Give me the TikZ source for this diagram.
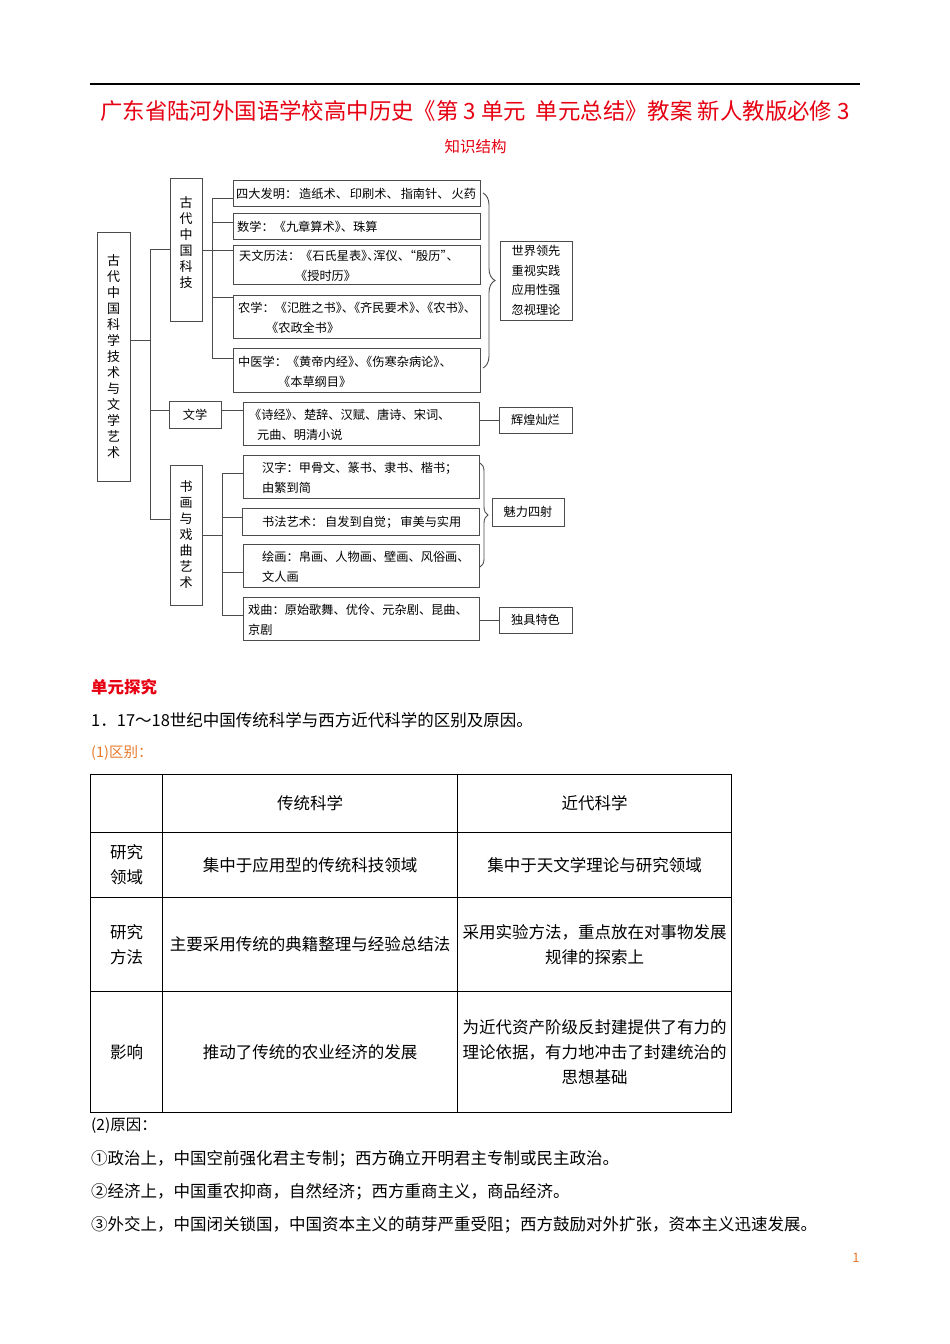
\documentclass[tikz,border=0pt]{standalone}
\usepackage{fontspec}
\setmainfont{Noto Sans CJK SC}
\newfontfamily\halffont[RawFeature=+halt]{Noto Sans CJK SC}
\newcommand\hp[1]{{\halffont #1}}
\newcommand\gx{\hspace*{2pt}}
\usetikzlibrary{decorations.pathreplacing}
\definecolor{dg}{gray}{0.3}
\definecolor{tred}{RGB}{230,0,18}
\definecolor{torange}{RGB}{233,120,40}
\newcommand\myDia{\fontsize{12.2}{20}\selectfont}
\newcommand\myRight{\fontsize{12.2}{19.5}\selectfont}
\newcommand\myVert{\fontsize{13}{16}\selectfont}
\newcommand\myBody{\fontsize{16.5}{25}\selectfont}
\tikzset{
  ln/.style={draw=dg, line width=1pt},
  bx/.style={draw=dg, line width=1pt, inner sep=0pt, anchor=north west},
  tx/.style={anchor=west, inner sep=0pt, font=\myDia, align=left},
  vb/.style={draw=dg, line width=1pt, inner sep=0pt, font=\myVert, align=center},
  vt/.style={inner sep=0pt, font=\myVert, align=center},
  rb/.style={draw=dg, line width=1pt, inner sep=0pt, font=\myRight, align=center},
  brc/.style={draw=dg, line width=0.9pt, decorate},
  cell/.style={draw=black, line width=1.1pt, inner sep=1pt, anchor=north west, font=\myBody, align=center},
  body/.style={anchor=west, inner sep=0pt, font=\myBody},
}
\begin{document}
\begin{tikzpicture}[x=1pt,y=-1pt]
\fill[white] (0,0) rectangle (950,1344);
\useasboundingbox (0,0) rectangle (950,1344);

% header
\coordinate (r1) at (90,84);
\coordinate (r2) at (860,84);
\draw[line width=1.2pt] (r1) -- (r2);
\node[text=tred, font=\fontsize{22.4}{26}\selectfont, inner sep=0pt] (title) at (475,111)
  {广东省陆河外国语学校高中历史《第 3 单元\ \ 单元总结》教案\ 新人教版必修 3};
\node[text=tred, font=\fontsize{15.5}{18}\selectfont, inner sep=0pt] (zsjg) at (475.5,147) {知识结构};

% ---------- diagram ----------
\node[vb, minimum width=33, minimum height=249] (A) at (113.5,356.5)
  {古\\代\\中\\国\\科\\学\\技\\术\\与\\文\\学\\艺\\术};
\node[vb, minimum width=32, minimum height=143] (B) at (186,249.5) {};
\node[vt] (Bt) at (186,243) {古\\代\\中\\国\\科\\技};
\node[vb, minimum width=52, minimum height=27, font=\myDia] (wenxue) at (195,414.5) {文学};
\node[vb, minimum width=32, minimum height=140] (B2) at (186,535)
  {书\\画\\与\\戏\\曲\\艺\\术};

% science boxes
\node[bx, minimum width=247, minimum height=26] (sida) at (233,180) {};
\node[tx] (sidat) at (236,194) {四大发明：\gx 造纸术、\gx 印刷术、\gx 指南针、\gx 火药};
\node[bx, minimum width=247, minimum height=26] (shuxue) at (233,213) {};
\node[tx] (shuxuet) at (237,227) {数学：《九章算术\hp{》}、珠算};
\node[bx, minimum width=247, minimum height=39] (tianwen) at (233,245) {};
\node[tx] (tianwent) at (239,266)
  {天文历法：《石氏星表\hp{》}\hp{、}浑仪、\hp{“}殷历\hp{”}、\\\hspace*{62pt}\hp{《}授时历》};
\node[bx, minimum width=247, minimum height=43] (nongxue) at (233,295) {};
\node[tx] (nongxuet) at (238,318)
  {农学：《氾胜之书\hp{》}\hp{、}《齐民要术\hp{》}\hp{、}《农书\hp{》}、\\\hspace*{34pt}\hp{《}农政全书》};
\node[bx, minimum width=247, minimum height=44] (zhongyi) at (233,348) {};
\node[tx] (zhongyit) at (238,372)
  {中医学：《黄帝内经\hp{》}\hp{、}《伤寒杂病论\hp{》}、\\\hspace*{46pt}\hp{《}本草纲目》};

% brace 1 and result
\coordinate (br1a) at (483,193);
\coordinate (br1b) at (483,368);
\draw[brc, decoration={brace, amplitude=12pt}] (br1a) -- (br1b);
\node[rb, minimum width=72, minimum height=79] (shijie) at (536,280.5)
  {世界领先\\重视实践\\应用性强\\忽视理论};

% literature
\node[bx, minimum width=236, minimum height=43] (shijing) at (243,402) {};
\node[tx] (shijingt) at (255,425)
  {\hp{《}诗经\hp{》}、楚辞、汉赋、唐诗、宋词、\\\hspace*{2pt}元曲、明清小说};
\node[rb, minimum width=73, minimum height=26] (huihuang) at (535.5,420) {辉煌灿烂};

% arts
\node[bx, minimum width=236, minimum height=43] (hanzi) at (243,455) {};
\node[tx] (hanzit) at (262,478) {汉字：甲骨文、篆书、隶书、楷书；\\由繁到简};
\node[bx, minimum width=237, minimum height=27] (shufa) at (242,508) {};
\node[tx] (shufat) at (262,522) {书法艺术：\gx 自发到自觉；\gx 审美与实用};
\node[bx, minimum width=236, minimum height=43] (huihua) at (243,544) {};
\node[tx] (huihuat) at (262,567) {绘画：帛画、人物画、壁画、风俗画、\\文人画};
\node[bx, minimum width=236, minimum height=43] (xiqu) at (243,597) {};
\node[tx] (xiqut) at (248,620) {戏曲：原始歌舞、优伶、元杂剧、昆曲、\\京剧};

\coordinate (br2a) at (480,463);
\coordinate (br2b) at (480,567);
\draw[brc, decoration={brace, amplitude=8pt}] (br2a) -- (br2b);
\node[rb, minimum width=72, minimum height=28] (meili) at (528,512) {魅力四射};
\node[rb, minimum width=73, minimum height=26] (duju) at (535.5,620) {独具特色};

% connectors: main trunk
\coordinate (tTop) at (150,249);
\coordinate (tA) at (150,340);
\coordinate (tWen) at (150,410);
\coordinate (tBot) at (150,519);
\draw[ln] (tTop) -- (tBot);
\draw[ln] (A.east |- tA) -- (tA);
\draw[ln] (tTop) -- (B.west |- tTop);
\draw[ln] (tWen) -- (wenxue.west |- tWen);
\draw[ln] (tBot) -- (B2.west |- tBot);

% science branch
\coordinate (bV1) at (212,198);
\coordinate (bShu) at (212,222);
\coordinate (bMid) at (212,250);
\coordinate (bNong) at (212,297);
\coordinate (bV2) at (212,358);
\draw[ln] (bV1) -- (bV2);
\draw[ln] (bV1) -- (sida.west |- bV1);
\draw[ln] (bShu) -- (shuxue.west |- bShu);
\draw[ln] (B.east |- bMid) -- (tianwen.west |- bMid);
\draw[ln] (bNong) -- (nongxue.west |- bNong);
\draw[ln] (bV2) -- (zhongyi.west |- bV2);

% literature connector
\coordinate (wMid) at (232,410);
\draw[ln] (wenxue.east |- wMid) -- (shijing.west |- wMid);
\draw[ln] (huihuang.west) -- (huihuang.west -| shijing.east);

% arts branch
\coordinate (aV1) at (222,473);
\coordinate (aShu) at (222,517);
\coordinate (aMid) at (222,535);
\coordinate (aHui) at (222,572);
\coordinate (aV2) at (222,615);
\draw[ln] (aV1) -- (aV2);
\draw[ln] (B2.east |- aMid) -- (aMid);
\draw[ln] (aV1) -- (hanzi.west |- aV1);
\draw[ln] (aShu) -- (shufa.west |- aShu);
\draw[ln] (aHui) -- (huihua.west |- aHui);
\draw[ln] (aV2) -- (xiqu.west |- aV2);
\draw[ln] (duju.west) -- (duju.west -| xiqu.east);

% ---------- section 2 ----------
\node[body, text=tred, font=\myBody\bfseries] (dyt) at (91,687) {单元探究};
\node[body] (q1) at (91,720) {1．17～18世纪中国传统科学与西方近代科学的区别及原因。};
\node[body, text=torange, font=\fontsize{14.5}{17}\selectfont] (qb) at (91,753) {(1)区别：};

\node[cell, minimum width=72, minimum height=58] (c00) at (90,774) {};
\node[cell, minimum width=295, minimum height=58] (c01) at (162,774) {传统科学};
\node[cell, minimum width=274, minimum height=58] (c02) at (457,774) {近代科学};
\node[cell, minimum width=72, minimum height=65] (c10) at (90,832) {研究\\领域};
\node[cell, minimum width=295, minimum height=65] (c11) at (162,832) {集中于应用型的传统科技领域};
\node[cell, minimum width=274, minimum height=65] (c12) at (457,832) {集中于天文学理论与研究领域};
\node[cell, minimum width=72, minimum height=94] (c20) at (90,897) {研究\\方法};
\node[cell, minimum width=295, minimum height=94] (c21) at (162,897) {主要采用传统的典籍整理与经验总结法};
\node[cell, minimum width=274, minimum height=94] (c22) at (457,897) {采用实验方法，重点放在对事物发展\\规律的探索上};
\node[cell, minimum width=72, minimum height=121] (c30) at (90,991) {影响};
\node[cell, minimum width=295, minimum height=121] (c31) at (162,991) {推动了传统的农业经济的发展};
\node[cell, minimum width=274, minimum height=121] (c32) at (457,991) {为近代资产阶级反封建提供了有力的\\理论依据，有力地冲击了封建统治的\\思想基础};

\node[body, font=\fontsize{15.5}{18}\selectfont] (yy) at (91,1126) {(2)原因：};
\node[body] (p1) at (91,1159) {①政治上，中国空前强化君主专制；西方确立开明君主专制或民主政治。};
\node[body] (p2) at (91,1192) {②经济上，中国重农抑商，自然经济；西方重商主义，商品经济。};
\node[body] (p3) at (91,1225) {③外交上，中国闭关锁国，中国资本主义的萌芽严重受阻；西方鼓励对外扩张，资本主义迅速发展。};
\node[text=torange, font=\fontsize{13}{15}\selectfont, inner sep=0pt] (pg) at (856,1258) {1};
\end{tikzpicture}
\end{document}
